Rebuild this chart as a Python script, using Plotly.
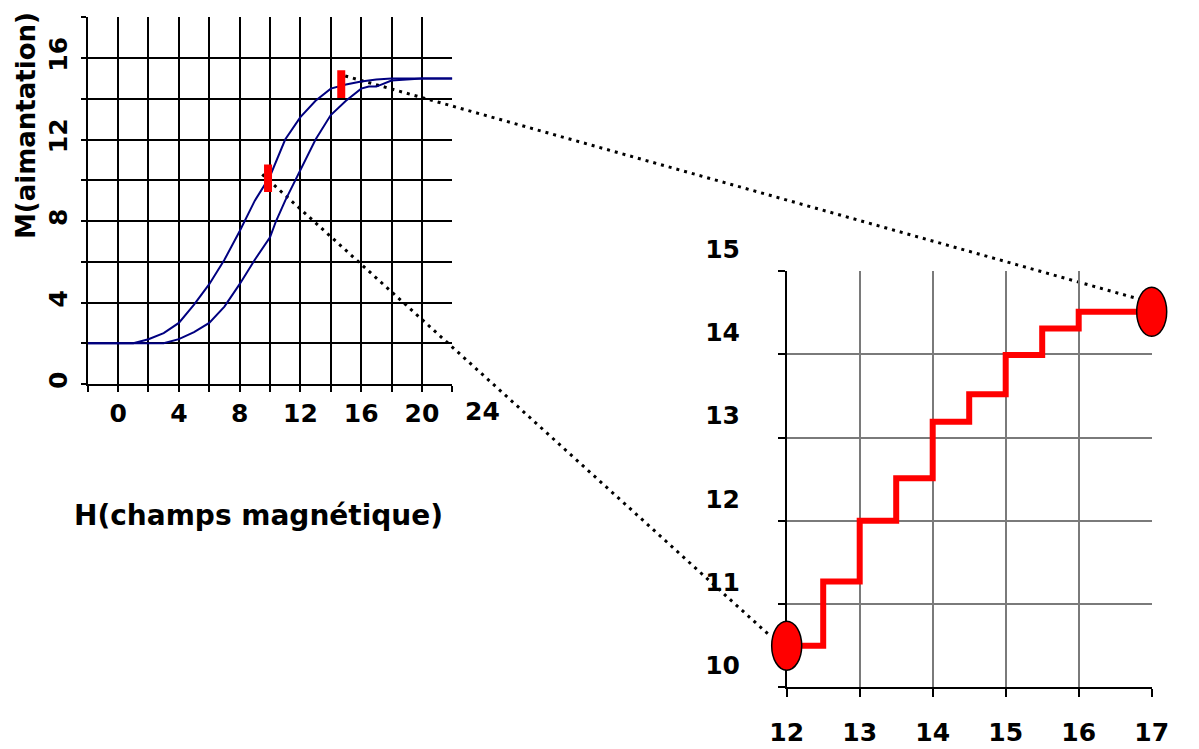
import plotly.graph_objects as go

# Hysteresis loop: magnetisation M versus field H (two branches)
h_up = [-2, 0, 1, 2, 3, 4, 5, 6, 7, 8, 9, 10, 11, 12, 13, 14, 15, 16, 17, 18, 20, 22]
m_up = [2, 2, 2, 2.2, 2.5, 3.0, 3.9, 4.9, 6.1, 7.5, 9.0, 10.2, 12.0, 13.1, 13.9,
        14.5, 14.7, 14.85, 14.95, 15, 15, 15]
h_down = [-2, 0, 3, 4, 5, 6, 7, 8, 9, 10, 10.4, 11, 12, 13, 14, 15, 16, 16.5, 17, 18, 20, 22]
m_down = [2, 2, 2, 2.2, 2.55, 3.0, 3.8, 4.9, 6.1, 7.2, 8.0, 9.0, 10.5, 12.0, 13.2,
          13.9, 14.5, 14.6, 14.6, 14.9, 15, 15]

# Red marks on the loop bounding the magnified section
mark_h = [9.87, 14.69]
mark_m = [10.1, 14.72]
mark_half = 0.68

# Barkhausen jumps in the magnified section
step_h = [12, 12.5, 13, 13.5, 14, 14.5, 15, 15.5, 16, 17]
step_m = [10.5, 11.27, 12.0, 12.51, 13.19, 13.52, 13.99, 14.31, 14.51, 14.51]

# Tick labels
left_xticks = [0, 4, 8, 12, 16, 20]
left_extra_xtick = 24
left_yticks = [0, 4, 8, 12, 16]
right_xticks = [12, 13, 14, 15, 16, 17]
right_yticks = [10, 11, 12, 13, 14, 15]

# Zoom connectors: start on the main loop, end on the magnified panel
conn_start = [(9.49, 10.29), (14.95, 15.12)]
conn_end = [(11.77, 10.62), (16.88, 14.65)]

W, H = 1199, 749
L_RX, L_RY = [-2, 22], [0, 18]
R_RX, R_RY = [12, 17], [10, 15]
L_DX = [87.7 / W, 452.3 / W]
L_DY = [1 - 384 / H, 1 - 17.3 / H]
R_DX = [786.7 / W, 1151.7 / W]
R_DY = [1 - 687.3 / H, 1 - 271 / H]


def to_paper(v, rng, dom):
    return dom[0] + (v - rng[0]) / (rng[1] - rng[0]) * (dom[1] - dom[0])


FONT = "DejaVu Sans"
NAVY = "#000080"
RED = "#FF0000"

fig = go.Figure()

fig.add_trace(go.Scatter(x=h_up, y=m_up, mode="lines", line=dict(color=NAVY, width=2),
                         xaxis="x", yaxis="y", showlegend=False))
fig.add_trace(go.Scatter(x=h_down, y=m_down, mode="lines", line=dict(color=NAVY, width=2),
                         xaxis="x", yaxis="y", showlegend=False))

mx, my = [], []
for h, m in zip(mark_h, mark_m):
    mx += [h, h, None]
    my += [m - mark_half, m + mark_half, None]
fig.add_trace(go.Scatter(x=mx, y=my, mode="lines", line=dict(color=RED, width=8),
                         xaxis="x", yaxis="y", showlegend=False))

fig.add_trace(go.Scatter(x=step_h, y=step_m, mode="lines", line=dict(color=RED, width=6, shape="hv"),
                         xaxis="x2", yaxis="y2", showlegend=False))

shapes = []
# dotted connectors
for (sx, sy), (ex, ey) in zip(conn_start, conn_end):
    shapes.append(dict(
        type="line", xref="paper", yref="paper", layer="below",
        x0=to_paper(sx, L_RX, L_DX), y0=to_paper(sy, L_RY, L_DY),
        x1=to_paper(ex, R_RX, R_DX), y1=to_paper(ey, R_RY, R_DY),
        line=dict(color="black", width=3, dash="3px,5px"),
    ))
# ellipses at both ends of the magnified staircase
for (h, m) in [(step_h[0], step_m[0]), (step_h[-1], step_m[-1])]:
    shapes.append(dict(
        type="circle", xref="paper", yref="paper", layer="above",
        xsizemode="pixel", ysizemode="pixel",
        xanchor=to_paper(h, R_RX, R_DX), yanchor=to_paper(m, R_RY, R_DY),
        x0=-15, x1=15, y0=-24.5, y1=24.5,
        fillcolor=RED, line=dict(color="black", width=1.5),
    ))

tickfont = dict(family=FONT, size=25, color="black", weight="bold")

fig.update_layout(
    width=W, height=H,
    margin=dict(l=0, r=0, t=0, b=0, pad=0, autoexpand=False),
    paper_bgcolor="white",
    plot_bgcolor="rgba(0,0,0,0)",
    showlegend=False,
    shapes=shapes,
    xaxis=dict(
        domain=L_DX, range=L_RX, anchor="y", automargin=False,
        tickmode="array", tickvals=left_xticks, ticktext=[str(v) for v in left_xticks],
        ticks="outside", ticklen=6, tickcolor="black", tickwidth=1.5,
        showgrid=True, gridcolor="black", gridwidth=1.5,
        minor=dict(tickmode="linear", tick0=0, dtick=2, showgrid=True, gridcolor="black",
                   gridwidth=1.5, ticks="outside", ticklen=6, tickcolor="black", tickwidth=1.5),
        showline=True, linecolor="black", linewidth=1.5,
        zeroline=False, tickfont=tickfont, ticklabelstandoff=0,
    ),
    yaxis=dict(
        domain=L_DY, range=L_RY, anchor="x", automargin=False,
        tickmode="array", tickvals=left_yticks, ticktext=[str(v) for v in left_yticks],
        tickangle=-90,
        ticks="outside", ticklen=5, tickcolor="black", tickwidth=1.5,
        showgrid=True, gridcolor="black", gridwidth=1.5,
        minor=dict(tickmode="linear", tick0=0, dtick=2, showgrid=True, gridcolor="black",
                   gridwidth=1.5, ticks="outside", ticklen=5, tickcolor="black", tickwidth=1.5),
        showline=True, linecolor="black", linewidth=1.5,
        zeroline=False, tickfont=tickfont, ticklabelstandoff=4,
    ),
    xaxis2=dict(
        domain=R_DX, range=R_RX, anchor="y2", automargin=False,
        tickmode="array", tickvals=right_xticks, ticktext=[str(v) for v in right_xticks],
        ticks="outside", ticklen=8, tickcolor="black", tickwidth=1.5,
        showgrid=True, gridcolor="#7a7a7a", gridwidth=1.5,
        showline=True, linecolor="black", linewidth=1.5,
        zeroline=False, tickfont=tickfont, ticklabelstandoff=14,
    ),
    yaxis2=dict(
        domain=R_DY, range=R_RY, anchor="x2", automargin=False,
        tickmode="array", tickvals=right_yticks, ticktext=[str(v) for v in right_yticks],
        ticks="outside", ticklen=7, tickcolor="black", tickwidth=1.5,
        showgrid=True, gridcolor="#7a7a7a", gridwidth=1.5,
        showline=True, linecolor="black", linewidth=1.5,
        zeroline=False, tickfont=tickfont, ticklabelstandoff=33, ticklabelshift=-22,
    ),
    annotations=[
        dict(text="M(aimantation)", textangle=-90, xref="paper", yref="paper",
             x=26 / W, y=1 - 126 / H, xanchor="center", yanchor="middle", showarrow=False,
             font=dict(family=FONT, size=26, color="black", weight="bold")),
        dict(text="H(champs magnétique)", xref="paper", yref="paper",
             x=72 / W, y=1 - 515 / H, xanchor="left", yanchor="middle", showarrow=False,
             font=dict(family=FONT, size=28, color="black", weight="bold")),
        dict(text=str(left_extra_xtick), xref="paper", yref="paper",
             x=to_paper(left_extra_xtick, L_RX, L_DX), y=1 - 411 / H,
             xanchor="center", yanchor="middle", showarrow=False, font=tickfont),
    ],
)

fig.write_html("out.html")
